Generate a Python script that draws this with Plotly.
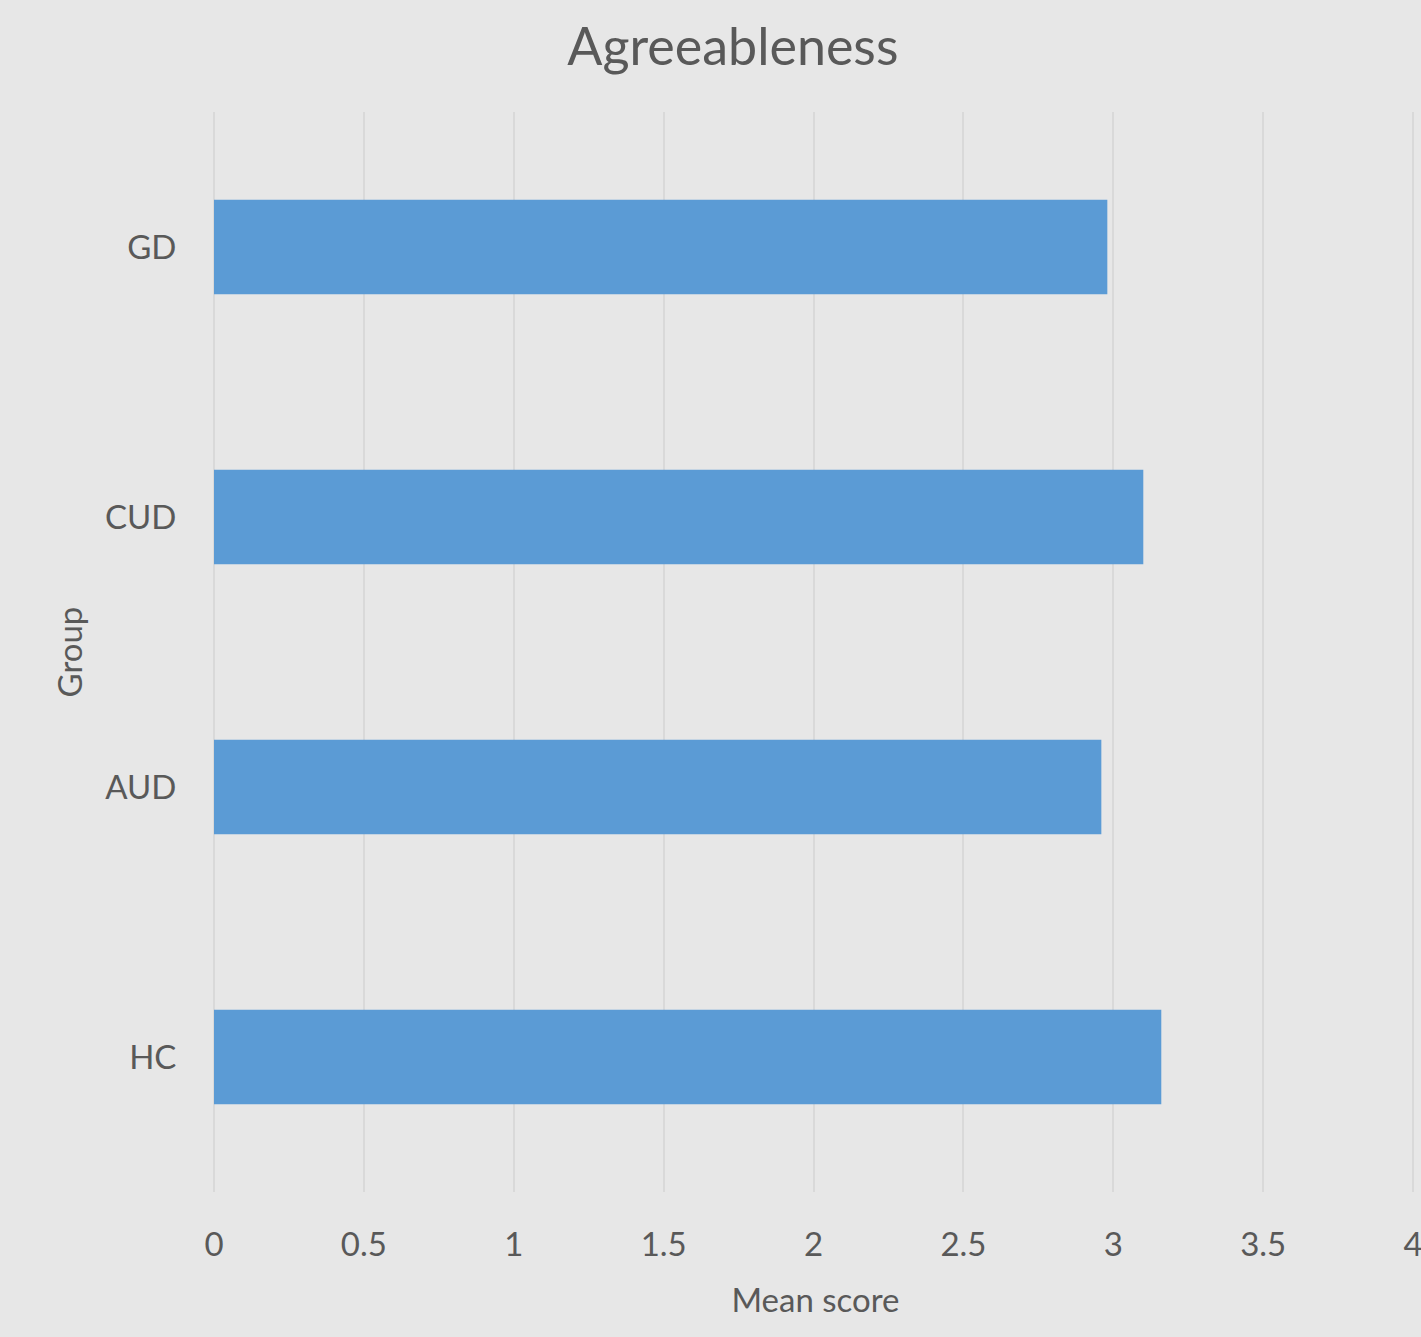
import plotly.graph_objects as go

# Mean agreeableness score per group
groups = ["HC", "AUD", "CUD", "GD"]
mean_scores = [3.16, 2.96, 3.10, 2.98]
x_ticks = [0, 0.5, 1, 1.5, 2, 2.5, 3, 3.5, 4]
x_tick_labels = ["0", "0.5", "1", "1.5", "2", "2.5", "3", "3.5", "4"]

font_family = "Lato, 'Open Sans', sans-serif"
text_color = "#595959"
bg_color = "#e7e7e7"
grid_color = "#d9d9d9"

fig = go.Figure(
    go.Bar(
        x=mean_scores,
        y=groups,
        orientation="h",
        marker=dict(color="#5b9bd5", line=dict(width=0)),
        hoverinfo="x+y",
    )
)

fig.update_layout(
    width=1421,
    height=1337,
    paper_bgcolor=bg_color,
    plot_bgcolor=bg_color,
    margin=dict(l=214, r=4, t=112, b=145, autoexpand=False),
    bargap=0.65,
    showlegend=False,
    font=dict(family=font_family, color=text_color),
    title=dict(
        text="Agreeableness",
        x=0.5157,
        xanchor="center",
        y=0.965,
        yanchor="middle",
        font=dict(size=52, color=text_color, family=font_family),
    ),
    xaxis=dict(
        range=[0, 4.013],
        tickvals=x_ticks,
        ticktext=x_tick_labels,
        showgrid=True,
        gridcolor=grid_color,
        gridwidth=2,
        zeroline=True,
        zerolinecolor=grid_color,
        zerolinewidth=2,
        showline=False,
        ticks="outside",
        ticklen=0,
        ticklabelstandoff=23,
        ticklabeloverflow="allow",
        automargin=False,
        tickfont=dict(size=33, color=text_color),
        title=dict(text="Mean score", font=dict(size=33, color=text_color), standoff=27),
        fixedrange=True,
    ),
    yaxis=dict(
        categoryorder="array",
        categoryarray=groups,
        showgrid=False,
        zeroline=False,
        showline=False,
        ticks="outside",
        ticklen=0,
        ticklabelstandoff=30,
        automargin=False,
        tickfont=dict(size=33, color=text_color),
        title=dict(text="Group", font=dict(size=33, color=text_color), standoff=12),
        fixedrange=True,
    ),
)

fig.write_html("out.html")
